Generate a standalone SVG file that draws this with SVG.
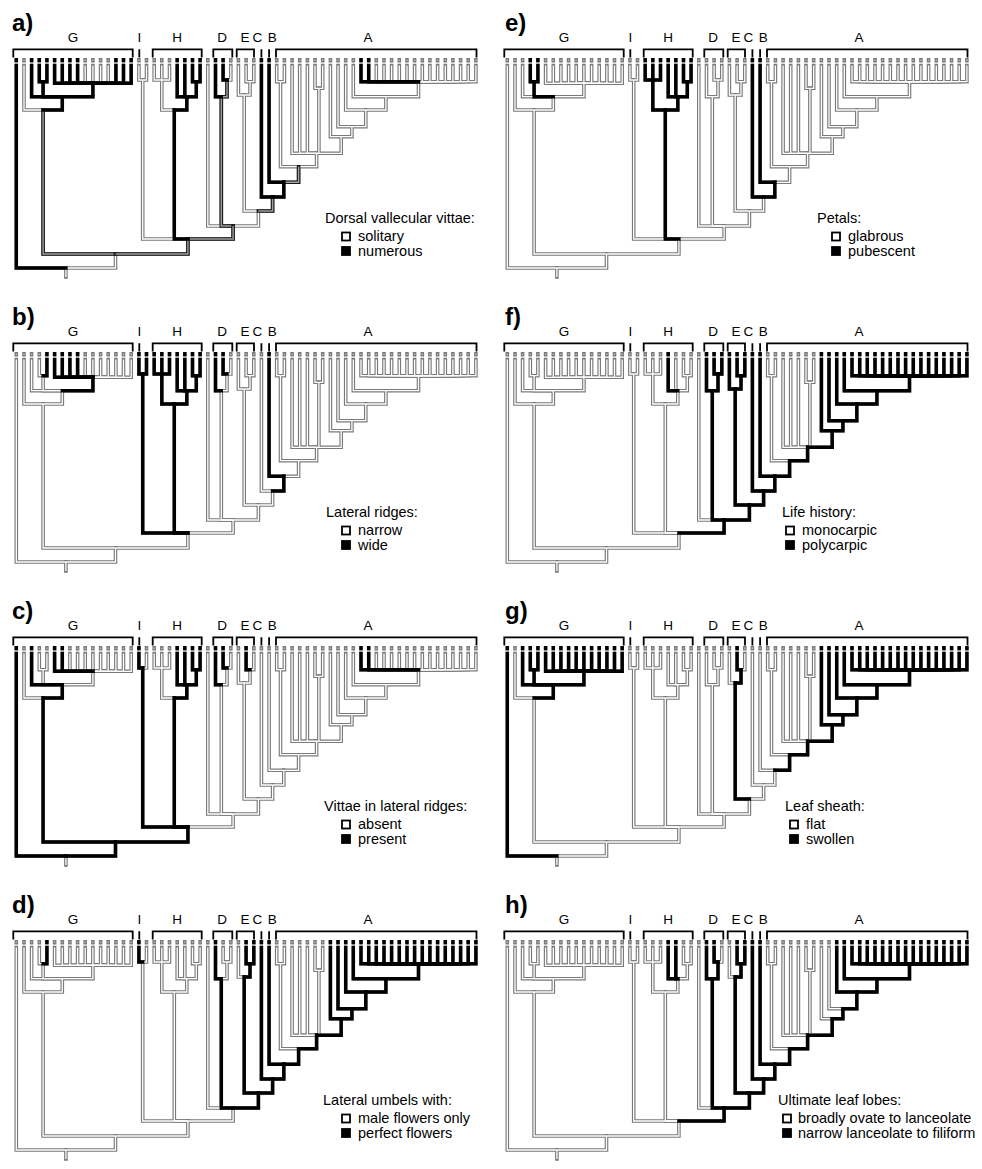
<svg xmlns="http://www.w3.org/2000/svg" xmlns:xlink="http://www.w3.org/1999/xlink" width="982" height="1169" viewBox="0 0 982 1169">
<style>
.ho{fill:none;stroke:#7a7a7a;stroke-width:3.6;stroke-linecap:square}
.hi{fill:none;stroke:#fff;stroke-width:1.3}
.bk{fill:none;stroke:#000;stroke-width:3.4;stroke-linecap:square}
.go{fill:none;stroke:#1a1a1a;stroke-width:3.6;stroke-linecap:square}
.gi{fill:none;stroke:#a0a0a0;stroke-width:1.4}
.br{fill:none;stroke:#000;stroke-width:1.8}
.cl{font-family:"Liberation Sans",Arial,sans-serif;font-size:13.5px;text-anchor:middle;fill:#000}
.pl{font-family:"Liberation Sans",Arial,sans-serif;font-size:24px;font-weight:bold;fill:#000}
.lg{font-family:"Liberation Sans",Arial,sans-serif;font-size:14.5px;fill:#000}
.sq0{fill:#fff;stroke:#000;stroke-width:1.8}
.sq1{fill:#000;stroke:#000;stroke-width:1.8}
</style>
<defs>
<g id="tree">
<path id="t0" d="M16.3,59.8V60.6M16.3,65.5V268H65.9"/>
<path id="t1" d="M24,59.8V60.6M24,65.5V110H43.1"/>
<path id="t2" d="M31.6,59.8V60.6M31.6,65.5V96.7H62.3"/>
<path id="t3" d="M39.3,59.8V60.6M39.3,65.5V81.7H43.1"/>
<path id="t4" d="M46.9,59.8V60.6M46.9,65.5V81.7H43.1"/>
<path id="t5" d="M54.6,59.8V60.6M54.6,65.5V83.3H92.9"/>
<path id="t6" d="M62.3,59.8V60.6M62.3,65.5V83.3H92.9"/>
<path id="t7" d="M69.9,59.8V60.6M69.9,65.5V83.3H92.9"/>
<path id="t8" d="M77.6,59.8V60.6M77.6,65.5V83.3H92.9"/>
<path id="t9" d="M85.2,59.8V60.6M85.2,65.5V83.3H92.9"/>
<path id="t10" d="M92.9,59.8V60.6M92.9,65.5V83.3"/>
<path id="t11" d="M100.6,59.8V60.6M100.6,65.5V83.3H92.9"/>
<path id="t12" d="M108.2,59.8V60.6M108.2,65.5V83.3H92.9"/>
<path id="t13" d="M115.9,59.8V60.6M115.9,65.5V83.3H92.9"/>
<path id="t14" d="M123.5,59.8V60.6M123.5,65.5V83.3H92.9"/>
<path id="t15" d="M131.2,59.8V60.6M131.2,65.5V83.3H92.9"/>
<path id="t16" d="M138.9,59.8V60.6M138.9,65.5V80H142.7"/>
<path id="t17" d="M146.5,59.8V60.6M146.5,65.5V80H142.7"/>
<path id="t18" d="M154.2,59.8V60.6M154.2,65.5V80H161.8"/>
<path id="t19" d="M161.8,59.8V60.6M161.8,65.5V80"/>
<path id="t20" d="M169.5,59.8V60.6M169.5,65.5V80H161.8"/>
<path id="t21" d="M177.2,59.8V60.6M177.2,65.5V96.7H186.8"/>
<path id="t22" d="M184.8,59.8V60.6M184.8,65.5V96.7H186.8"/>
<path id="t23" d="M192.5,59.8V60.6M192.5,65.5V81.7H196.3"/>
<path id="t24" d="M200.1,59.8V60.6M200.1,65.5V81.7H196.3"/>
<path id="t25" d="M207.8,59.8V60.6M207.8,65.5V226H233.1"/>
<path id="t26" d="M215.5,59.8V60.6M215.5,65.5V96.7H221.3"/>
<path id="t27" d="M223.1,59.8V60.6M223.1,65.5V80H227"/>
<path id="t28" d="M230.8,59.8V60.6M230.8,65.5V80H227"/>
<path id="t29" d="M238.4,59.8V60.6M238.4,65.5V95H244.2"/>
<path id="t30" d="M246.1,59.8V60.6M246.1,65.5V81.7H250"/>
<path id="t31" d="M253.8,59.8V60.6M253.8,65.5V81.7H250"/>
<path id="t32" d="M261.4,59.8V60.6M261.4,65.5V197H272.6"/>
<path id="t33" d="M269.1,59.8V60.6M269.1,65.5V182.3H283.8"/>
<path id="t34" d="M276.7,59.8V60.6M276.7,65.5V81.7H280.5"/>
<path id="t35" d="M284.4,59.8V60.6M284.4,65.5V81.7H280.5"/>
<path id="t36" d="M292.1,59.8V60.6M292.1,65.5V153.3H316.6"/>
<path id="t37" d="M299.7,59.8V60.6M299.7,65.5V153.3H316.6"/>
<path id="t38" d="M307.4,59.8V60.6M307.4,65.5V153.3H316.6"/>
<path id="t39" d="M315,59.8V60.6M315,65.5V88.3H318.9"/>
<path id="t40" d="M322.7,59.8V60.6M322.7,65.5V88.3H318.9"/>
<path id="t41" d="M330.4,59.8V60.6M330.4,65.5V136.7H341.2"/>
<path id="t42" d="M338,59.8V60.6M338,65.5V126.7H351.9"/>
<path id="t43" d="M345.7,59.8V60.6M345.7,65.5V110H365.8"/>
<path id="t44" d="M353.3,59.8V60.6M353.3,65.5V96.7H385.9"/>
<path id="t45" d="M361,59.8V60.6M361,65.5V81.7H418.5"/>
<path id="t46" d="M368.7,59.8V60.6M368.7,65.5V81.7H418.5"/>
<path id="t47" d="M376.3,59.8V60.6M376.3,65.5V81.7H418.5"/>
<path id="t48" d="M384,59.8V60.6M384,65.5V81.7H418.5"/>
<path id="t49" d="M391.6,59.8V60.6M391.6,65.5V81.7H418.5"/>
<path id="t50" d="M399.3,59.8V60.6M399.3,65.5V81.7H418.5"/>
<path id="t51" d="M407,59.8V60.6M407,65.5V81.7H418.5"/>
<path id="t52" d="M414.6,59.8V60.6M414.6,65.5V81.7H418.5"/>
<path id="t53" d="M422.3,59.8V60.6M422.3,65.5V81.7H418.5"/>
<path id="t54" d="M429.9,59.8V60.6M429.9,65.5V81.7H418.5"/>
<path id="t55" d="M437.6,59.8V60.6M437.6,65.5V81.7H418.5"/>
<path id="t56" d="M445.3,59.8V60.6M445.3,65.5V81.7H418.5"/>
<path id="t57" d="M452.9,59.8V60.6M452.9,65.5V81.7H418.5"/>
<path id="t58" d="M460.6,59.8V60.6M460.6,65.5V81.7H418.5"/>
<path id="t59" d="M468.2,59.8V60.6M468.2,65.5V81.7H418.5"/>
<path id="t60" d="M475.9,59.8V60.6M475.9,65.5V81.7H418.5"/>
<path id="Fg34" d="M43.1,81.7V96.7H62.3"/>
<path id="Z" d="M92.9,83.3V96.7H62.3"/>
<path id="X" d="M62.3,96.7V110H43.1"/>
<path id="Gp" d="M43.1,110V254H115.5"/>
<path id="If" d="M142.7,80V239H187.9"/>
<path id="H1" d="M161.8,80V110H174.3"/>
<path id="F2324" d="M196.3,81.7V96.7H186.8"/>
<path id="H2" d="M186.8,96.7V110H174.3"/>
<path id="H" d="M174.3,110V239H187.9"/>
<path id="F2728" d="M227,80V96.7H221.3"/>
<path id="D" d="M221.3,96.7V226H233.1"/>
<path id="F3031" d="M250,81.7V95H244.2"/>
<path id="E" d="M244.2,95V211H258.4"/>
<path id="F3435" d="M280.5,81.7V166.7H298.6"/>
<path id="F3940" d="M318.9,88.3V153.3H316.6"/>
<path id="Acore" d="M418.5,81.7V96.7H385.9"/>
<path id="N44" d="M385.9,96.7V110H365.8"/>
<path id="N43" d="M365.8,110V126.7H351.9"/>
<path id="N42" d="M351.9,126.7V136.7H341.2"/>
<path id="N41" d="M341.2,136.7V153.3H316.6"/>
<path id="R8" d="M316.6,153.3V166.7H298.6"/>
<path id="R7" d="M298.6,166.7V182.3H283.8"/>
<path id="R6" d="M283.8,182.3V197H272.6"/>
<path id="R5" d="M272.6,197V211H258.4"/>
<path id="R4" d="M258.4,211V226H233.1"/>
<path id="N25D" d="M233.1,226V239H187.9"/>
<path id="R2" d="M187.9,239V254H115.5"/>
<path id="R1" d="M115.5,254V268H65.9"/>
<path id="stem" d="M65.9,268V277"/>
</g>
<g id="brk">
<path class="br" d="M13.3,57.5V49.3H132.7V57.5M139.3,49.3V57.5M152.7,57.5V49.3H201.7V57.5M213.3,57.5V49.3H232.3V57.5M236.7,57.5V49.3H254V57.5M261.4,49.3V57.5M269.1,49.3V57.5M276,57.5V49.3H476.5V57.5"/>
</g>
</defs>

<g id="panel-a">
<use href="#brk"/><use href="#tree" class="ho"/><use href="#tree" class="hi"/>
<g id="a-states">
<use href="#Gp" class="go"/><use href="#Gp" class="gi"/><use href="#D" class="go"/><use href="#D" class="gi"/><use href="#F2728" class="go"/><use href="#F2728" class="gi"/><use href="#N25D" class="go"/><use href="#N25D" class="gi"/><use href="#R2" class="go"/><use href="#R2" class="gi"/><use href="#R5" class="go"/><use href="#R5" class="gi"/><use href="#R7" class="go"/><use href="#R7" class="gi"/>
<use href="#t0" class="bk"/><use href="#t2" class="bk"/><use href="#t3" class="bk"/><use href="#t4" class="bk"/><use href="#Fg34" class="bk"/><use href="#X" class="bk"/><use href="#Z" class="bk"/>
<use href="#t5" class="bk"/><use href="#t6" class="bk"/><use href="#t7" class="bk"/><use href="#t8" class="bk"/><use href="#t13" class="bk"/><use href="#t14" class="bk"/><use href="#t15" class="bk"/>
<use href="#H" class="bk"/><use href="#H2" class="bk"/><use href="#t21" class="bk"/><use href="#t22" class="bk"/><use href="#t23" class="bk"/><use href="#t24" class="bk"/><use href="#F2324" class="bk"/>
<use href="#t26" class="bk"/><use href="#t27" class="bk"/><use href="#t32" class="bk"/><use href="#t33" class="bk"/><use href="#R6" class="bk"/><use href="#t45" class="bk"/><use href="#t46" class="bk"/>
</g>
<text class="pl" x="12" y="31">a)</text>
<text class="cl" x="73" y="41.5">G</text><text class="cl" x="139.3" y="41.5">I</text><text class="cl" x="177" y="41.5">H</text><text class="cl" x="222" y="41.5">D</text><text class="cl" x="245" y="41.5">E</text><text class="cl" x="257.3" y="41.5">C</text><text class="cl" x="272.3" y="41.5">B</text><text class="cl" x="368" y="41.5">A</text>
<text class="lg" x="325" y="223">Dorsal vallecular vittae:</text>
<rect class="sq0" x="342" y="232.5" width="8" height="8"/><text class="lg" x="358" y="241">solitary</text>
<rect class="sq1" x="342" y="247" width="8" height="8"/><text class="lg" x="358" y="255.5">numerous</text>
</g>

<g id="panel-b" transform="translate(0,294)">
<use href="#brk"/><use href="#tree" class="ho"/><use href="#tree" class="hi"/>
<g id="b-states">
<use href="#Z" class="bk"/><use href="#t5" class="bk"/><use href="#t6" class="bk"/><use href="#t7" class="bk"/><use href="#t8" class="bk"/><use href="#t4" class="bk"/>
<use href="#If" class="bk"/><use href="#t16" class="bk"/><use href="#t17" class="bk"/><use href="#H" class="bk"/><use href="#H1" class="bk"/><use href="#H2" class="bk"/><use href="#F2324" class="bk"/>
<use href="#t18" class="bk"/><use href="#t19" class="bk"/><use href="#t20" class="bk"/><use href="#t21" class="bk"/><use href="#t22" class="bk"/><use href="#t23" class="bk"/><use href="#t24" class="bk"/>
<use href="#t26" class="bk"/><use href="#t27" class="bk"/><use href="#t33" class="bk"/><use href="#R6" class="bk"/>
</g>
<text class="pl" x="12" y="31">b)</text>
<text class="cl" x="73" y="41.5">G</text><text class="cl" x="139.3" y="41.5">I</text><text class="cl" x="177" y="41.5">H</text><text class="cl" x="222" y="41.5">D</text><text class="cl" x="245" y="41.5">E</text><text class="cl" x="257.3" y="41.5">C</text><text class="cl" x="272.3" y="41.5">B</text><text class="cl" x="368" y="41.5">A</text>
<text class="lg" x="326" y="223">Lateral ridges:</text>
<rect class="sq0" x="342" y="232.5" width="8" height="8"/><text class="lg" x="358" y="241">narrow</text>
<rect class="sq1" x="342" y="247" width="8" height="8"/><text class="lg" x="358" y="255.5">wide</text>
</g>

<g id="panel-c" transform="translate(0,588)">
<use href="#brk"/><use href="#tree" class="ho"/><use href="#tree" class="hi"/>
<g id="c-states">
<use href="#t0" class="bk"/><use href="#Gp" class="bk"/><use href="#X" class="bk"/><use href="#t2" class="bk"/><use href="#R1" class="bk"/><use href="#R2" class="bk"/>
<use href="#If" class="bk"/><use href="#t16" class="bk"/><use href="#H" class="bk"/><use href="#H2" class="bk"/><use href="#F2324" class="bk"/><use href="#t21" class="bk"/><use href="#t22" class="bk"/><use href="#t23" class="bk"/><use href="#t24" class="bk"/>
<use href="#t5" class="bk"/><use href="#t6" class="bk"/><use href="#t26" class="bk"/><use href="#t27" class="bk"/><use href="#t30" class="bk"/><use href="#t45" class="bk"/><use href="#t46" class="bk"/>
</g>
<text class="pl" x="12" y="31">c)</text>
<text class="cl" x="73" y="41.5">G</text><text class="cl" x="139.3" y="41.5">I</text><text class="cl" x="177" y="41.5">H</text><text class="cl" x="222" y="41.5">D</text><text class="cl" x="245" y="41.5">E</text><text class="cl" x="257.3" y="41.5">C</text><text class="cl" x="272.3" y="41.5">B</text><text class="cl" x="368" y="41.5">A</text>
<text class="lg" x="324" y="223">Vittae in lateral ridges:</text>
<rect class="sq0" x="342" y="232.5" width="8" height="8"/><text class="lg" x="358" y="241">absent</text>
<rect class="sq1" x="342" y="247" width="8" height="8"/><text class="lg" x="358" y="255.5">present</text>
</g>

<g id="panel-d" transform="translate(0,882)">
<use href="#brk"/><use href="#tree" class="ho"/><use href="#tree" class="hi"/>
<g id="d-states">
<use href="#D" class="bk"/><use href="#t26" class="bk"/><use href="#E" class="bk"/><use href="#t30" class="bk"/><use href="#F3031" class="bk"/><use href="#t31" class="bk"/><use href="#t32" class="bk"/><use href="#t33" class="bk"/>
<use href="#R4" class="bk"/><use href="#R5" class="bk"/><use href="#R6" class="bk"/><use href="#R7" class="bk"/><use href="#R8" class="bk"/><use href="#N41" class="bk"/><use href="#N42" class="bk"/><use href="#N43" class="bk"/><use href="#N44" class="bk"/><use href="#Acore" class="bk"/>
<use href="#t41" class="bk"/><use href="#t42" class="bk"/><use href="#t43" class="bk"/><use href="#t44" class="bk"/>
<use href="#t45" class="bk"/><use href="#t46" class="bk"/><use href="#t47" class="bk"/><use href="#t48" class="bk"/><use href="#t49" class="bk"/><use href="#t50" class="bk"/><use href="#t51" class="bk"/><use href="#t52" class="bk"/><use href="#t53" class="bk"/><use href="#t54" class="bk"/><use href="#t55" class="bk"/><use href="#t56" class="bk"/><use href="#t57" class="bk"/><use href="#t58" class="bk"/><use href="#t59" class="bk"/><use href="#t60" class="bk"/>
<use href="#t16" class="bk"/><use href="#t4" class="bk"/>
</g>
<text class="pl" x="12" y="31">d)</text>
<text class="cl" x="73" y="41.5">G</text><text class="cl" x="139.3" y="41.5">I</text><text class="cl" x="177" y="41.5">H</text><text class="cl" x="222" y="41.5">D</text><text class="cl" x="245" y="41.5">E</text><text class="cl" x="257.3" y="41.5">C</text><text class="cl" x="272.3" y="41.5">B</text><text class="cl" x="368" y="41.5">A</text>
<text class="lg" x="323" y="223">Lateral umbels with:</text>
<rect class="sq0" x="342" y="232.5" width="8" height="8"/><text class="lg" x="358" y="241">male flowers only</text>
<rect class="sq1" x="342" y="247" width="8" height="8"/><text class="lg" x="358" y="255.5">perfect flowers</text>
</g>

<g id="panel-e" transform="translate(491,0)">
<use href="#brk"/><use href="#tree" class="ho"/><use href="#tree" class="hi"/>
<g id="e-states">
<use href="#H" class="bk"/><use href="#H1" class="bk"/><use href="#H2" class="bk"/><use href="#F2324" class="bk"/><use href="#t18" class="bk"/><use href="#t19" class="bk"/><use href="#t20" class="bk"/><use href="#t21" class="bk"/><use href="#t22" class="bk"/><use href="#t23" class="bk"/><use href="#t24" class="bk"/>
<use href="#t3" class="bk"/><use href="#t4" class="bk"/><use href="#Fg34" class="bk"/><use href="#t32" class="bk"/><use href="#t33" class="bk"/><use href="#R6" class="bk"/>
</g>
<text class="pl" x="14" y="31">e)</text>
<text class="cl" x="73" y="41.5">G</text><text class="cl" x="139.3" y="41.5">I</text><text class="cl" x="177" y="41.5">H</text><text class="cl" x="222" y="41.5">D</text><text class="cl" x="245" y="41.5">E</text><text class="cl" x="257.3" y="41.5">C</text><text class="cl" x="272.3" y="41.5">B</text><text class="cl" x="368" y="41.5">A</text>
<text class="lg" x="326" y="223">Petals:</text>
<rect class="sq0" x="341" y="232.5" width="8" height="8"/><text class="lg" x="357" y="241">glabrous</text>
<rect class="sq1" x="341" y="247" width="8" height="8"/><text class="lg" x="357" y="255.5">pubescent</text>
</g>

<g id="panel-f" transform="translate(491,294)">
<use href="#brk"/><use href="#tree" class="ho"/><use href="#tree" class="hi"/>
<g id="f-states">
<use href="#D" class="bk"/><use href="#t26" class="bk"/><use href="#t27" class="bk"/><use href="#t28" class="bk"/><use href="#F2728" class="bk"/><use href="#E" class="bk"/><use href="#t29" class="bk"/><use href="#t30" class="bk"/><use href="#t31" class="bk"/><use href="#F3031" class="bk"/>
<use href="#N25D" class="bk"/><use href="#R4" class="bk"/><use href="#R5" class="bk"/><use href="#R6" class="bk"/><use href="#R7" class="bk"/><use href="#R8" class="bk"/><use href="#N41" class="bk"/><use href="#N42" class="bk"/><use href="#N43" class="bk"/><use href="#N44" class="bk"/><use href="#Acore" class="bk"/>
<use href="#t32" class="bk"/><use href="#t33" class="bk"/><use href="#t41" class="bk"/><use href="#t42" class="bk"/><use href="#t43" class="bk"/><use href="#t44" class="bk"/>
<use href="#t45" class="bk"/><use href="#t46" class="bk"/><use href="#t47" class="bk"/><use href="#t48" class="bk"/><use href="#t49" class="bk"/><use href="#t50" class="bk"/><use href="#t51" class="bk"/><use href="#t52" class="bk"/><use href="#t53" class="bk"/><use href="#t54" class="bk"/><use href="#t55" class="bk"/><use href="#t56" class="bk"/><use href="#t57" class="bk"/><use href="#t58" class="bk"/><use href="#t59" class="bk"/><use href="#t60" class="bk"/>
<use href="#t21" class="bk"/>
</g>
<text class="pl" x="14" y="31">f)</text>
<text class="cl" x="73" y="41.5">G</text><text class="cl" x="139.3" y="41.5">I</text><text class="cl" x="177" y="41.5">H</text><text class="cl" x="222" y="41.5">D</text><text class="cl" x="245" y="41.5">E</text><text class="cl" x="257.3" y="41.5">C</text><text class="cl" x="272.3" y="41.5">B</text><text class="cl" x="368" y="41.5">A</text>
<text class="lg" x="291" y="223">Life history:</text>
<rect class="sq0" x="295" y="232.5" width="8" height="8"/><text class="lg" x="311" y="241">monocarpic</text>
<rect class="sq1" x="295" y="247" width="8" height="8"/><text class="lg" x="311" y="255.5">polycarpic</text>
</g>

<g id="panel-g" transform="translate(491,588)">
<use href="#brk"/><use href="#tree" class="ho"/><use href="#tree" class="hi"/>
<g id="g-states">
<use href="#t0" class="bk"/><use href="#t2" class="bk"/><use href="#t3" class="bk"/><use href="#t4" class="bk"/><use href="#Fg34" class="bk"/><use href="#X" class="bk"/><use href="#Z" class="bk"/>
<use href="#t5" class="bk"/><use href="#t6" class="bk"/><use href="#t7" class="bk"/><use href="#t8" class="bk"/><use href="#t9" class="bk"/><use href="#t10" class="bk"/><use href="#t11" class="bk"/><use href="#t12" class="bk"/><use href="#t13" class="bk"/><use href="#t14" class="bk"/><use href="#t15" class="bk"/>
<use href="#E" class="bk"/><use href="#t30" class="bk"/><use href="#F3031" class="bk"/><use href="#R7" class="bk"/><use href="#R8" class="bk"/><use href="#N41" class="bk"/><use href="#N42" class="bk"/><use href="#N43" class="bk"/><use href="#N44" class="bk"/><use href="#Acore" class="bk"/>
<use href="#t41" class="bk"/><use href="#t42" class="bk"/><use href="#t43" class="bk"/><use href="#t44" class="bk"/>
<use href="#t45" class="bk"/><use href="#t46" class="bk"/><use href="#t47" class="bk"/><use href="#t48" class="bk"/><use href="#t49" class="bk"/><use href="#t50" class="bk"/><use href="#t51" class="bk"/><use href="#t52" class="bk"/><use href="#t53" class="bk"/><use href="#t54" class="bk"/><use href="#t55" class="bk"/><use href="#t56" class="bk"/><use href="#t57" class="bk"/><use href="#t58" class="bk"/><use href="#t59" class="bk"/><use href="#t60" class="bk"/>
</g>
<text class="pl" x="14" y="31">g)</text>
<text class="cl" x="73" y="41.5">G</text><text class="cl" x="139.3" y="41.5">I</text><text class="cl" x="177" y="41.5">H</text><text class="cl" x="222" y="41.5">D</text><text class="cl" x="245" y="41.5">E</text><text class="cl" x="257.3" y="41.5">C</text><text class="cl" x="272.3" y="41.5">B</text><text class="cl" x="368" y="41.5">A</text>
<text class="lg" x="294" y="223">Leaf sheath:</text>
<rect class="sq0" x="299" y="232.5" width="8" height="8"/><text class="lg" x="315" y="241">flat</text>
<rect class="sq1" x="299" y="247" width="8" height="8"/><text class="lg" x="315" y="255.5">swollen</text>
</g>

<g id="panel-h" transform="translate(491,882)">
<use href="#brk"/><use href="#tree" class="ho"/><use href="#tree" class="hi"/>
<g id="h-states">
<use href="#D" class="bk"/><use href="#t26" class="bk"/><use href="#t27" class="bk"/><use href="#F2728" class="bk"/><use href="#E" class="bk"/><use href="#t30" class="bk"/><use href="#t31" class="bk"/><use href="#F3031" class="bk"/>
<use href="#N25D" class="bk"/><use href="#R4" class="bk"/><use href="#R5" class="bk"/><use href="#R6" class="bk"/><use href="#R7" class="bk"/><use href="#R8" class="bk"/><use href="#N41" class="bk"/><use href="#N42" class="bk"/><use href="#N43" class="bk"/><use href="#N44" class="bk"/><use href="#Acore" class="bk"/>
<use href="#t32" class="bk"/><use href="#t33" class="bk"/><use href="#t43" class="bk"/><use href="#t44" class="bk"/>
<use href="#t45" class="bk"/><use href="#t46" class="bk"/><use href="#t47" class="bk"/><use href="#t48" class="bk"/><use href="#t49" class="bk"/><use href="#t50" class="bk"/><use href="#t51" class="bk"/><use href="#t52" class="bk"/><use href="#t53" class="bk"/><use href="#t54" class="bk"/><use href="#t55" class="bk"/><use href="#t56" class="bk"/><use href="#t57" class="bk"/><use href="#t58" class="bk"/><use href="#t59" class="bk"/><use href="#t60" class="bk"/>
<use href="#t21" class="bk"/><use href="#t22" class="bk"/>
</g>
<text class="pl" x="14" y="31">h)</text>
<text class="cl" x="73" y="41.5">G</text><text class="cl" x="139.3" y="41.5">I</text><text class="cl" x="177" y="41.5">H</text><text class="cl" x="222" y="41.5">D</text><text class="cl" x="245" y="41.5">E</text><text class="cl" x="257.3" y="41.5">C</text><text class="cl" x="272.3" y="41.5">B</text><text class="cl" x="368" y="41.5">A</text>
<text class="lg" x="287" y="223">Ultimate leaf lobes:</text>
<rect class="sq0" x="292" y="232.5" width="8" height="8"/><text class="lg" x="307" y="241" font-size="15">broadly ovate to lanceolate</text>
<rect class="sq1" x="292" y="247" width="8" height="8"/><text class="lg" x="307" y="255.5" font-size="15">narrow lanceolate to filiform</text>
</g>
</svg>
